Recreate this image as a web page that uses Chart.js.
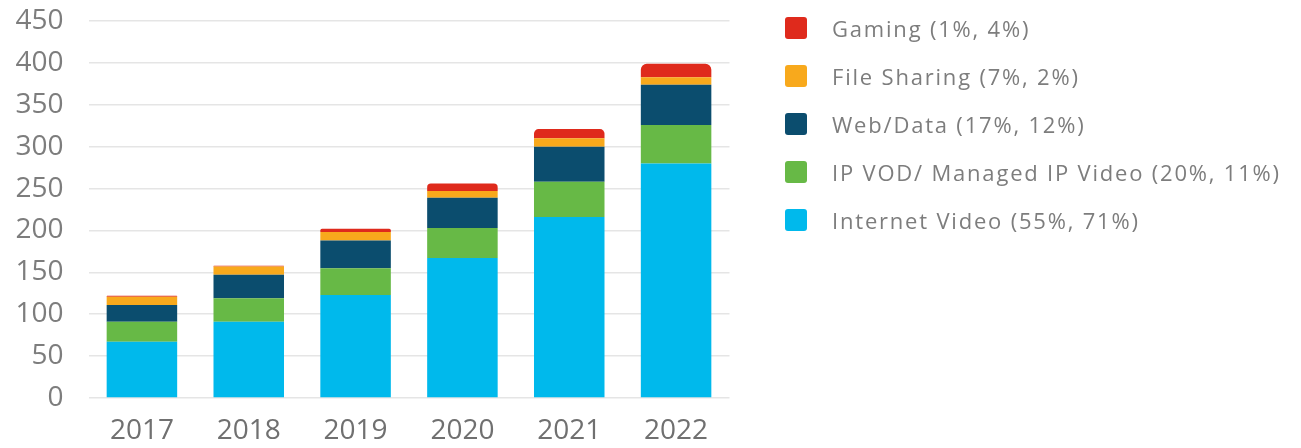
<!DOCTYPE html>
<html>
<head>
<meta charset="utf-8">
<script src="https://cdn.jsdelivr.net/npm/chart.js"></script>
<style>
  html, body { margin: 0; padding: 0; background: #ffffff; }
  #wrap { position: relative; width: 1301px; height: 448px; }
  #c { position: absolute; left: 0; top: 0; }
  #legend { position: absolute; left: 785px; top: 17px; font-family: "Open Sans", sans-serif; font-size: 22px; letter-spacing: 1.8px; color: #7d7d7d; }
  .item { display: flex; align-items: center; height: 22px; margin-bottom: 26px; white-space: nowrap; }
  .sw { width: 22px; height: 22px; border-radius: 3px; margin-right: 25px; flex: none; }
</style>
</head>
<body>
<div id="wrap">
  <canvas id="c" width="1301" height="448"></canvas>
  <div id="legend"></div>
</div>
<script>
const years = ['2017', '2018', '2019', '2020', '2021', '2022'];
const internetVideo = [67, 91, 123, 167, 216, 280];
const ipVod = [24, 28, 32, 36, 42, 46];
const webData = [20, 28, 33, 36, 42, 48];
const fileSharing = [10, 10, 10, 8, 10, 9];
const gaming = [1, 1, 4, 9, 11, 16];
const seriesLabels = ['Internet Video (55%, 71%)', 'IP VOD/ Managed IP Video (20%, 11%)', 'Web/Data (17%, 12%)', 'File Sharing (7%, 2%)', 'Gaming (1%, 4%)'];
const seriesColors = ['#00b9ec', '#67b946', '#0b4d6e', '#f8a91c', '#df2a1c'];
const yTicks = [0, 50, 100, 150, 200, 250, 300, 350, 400, 450];

const seriesData = [internetVideo, ipVod, webData, fileSharing, gaming];
const lastIdx = seriesData.length - 1;

const datasets = seriesData.map((d, i) => ({
  label: seriesLabels[i],
  data: d,
  backgroundColor: seriesColors[i],
  borderWidth: 0,
  borderSkipped: false,
  borderRadius: i === lastIdx ? { topLeft: 6, topRight: 6, bottomLeft: 0, bottomRight: 0 } : 0,
  categoryPercentage: 1,
  barPercentage: 0.66
}));

new Chart(document.getElementById('c'), {
  type: 'bar',
  data: { labels: years, datasets: datasets },
  options: {
    responsive: false,
    animation: false,
    layout: { padding: { left: 0, right: 571.5, top: 21, bottom: 0 } },
    plugins: { legend: { display: false }, tooltip: { enabled: false } },
    scales: {
      x: {
        stacked: true,
        grid: { display: false, drawTicks: false },
        border: { display: false },
        ticks: { color: '#707070', font: { family: 'Open Sans', size: 28 }, padding: 16, maxRotation: 0 },
        afterFit: s => { s.height = 50; s.paddingLeft = 0; s.paddingRight = 0; }
      },
      y: {
        stacked: true,
        min: 0,
        max: 450,
        afterBuildTicks: s => { s.ticks = yTicks.map(v => ({ value: v })); },
        grid: { color: '#e5e5e5', lineWidth: 1.5, drawTicks: false },
        border: { display: false },
        ticks: { color: '#7d7d7d', font: { family: 'Open Sans', size: 28 }, padding: 25 },
        afterFit: s => { s.width = 88.5; s.paddingTop = 0; s.paddingBottom = 0; }
      }
    }
  }
});

const legend = document.getElementById('legend');
for (let i = lastIdx; i >= 0; i--) {
  const row = document.createElement('div');
  row.className = 'item';
  const sw = document.createElement('span');
  sw.className = 'sw';
  sw.style.background = seriesColors[i];
  const tx = document.createElement('span');
  tx.textContent = seriesLabels[i];
  row.appendChild(sw);
  row.appendChild(tx);
  legend.appendChild(row);
}
</script>
</body>
</html>
